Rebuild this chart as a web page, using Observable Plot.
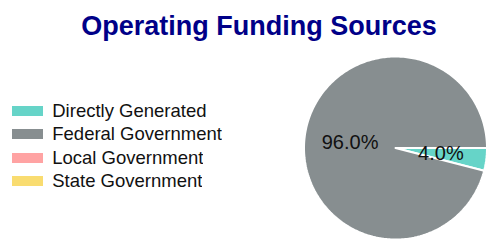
<!DOCTYPE html>
<html>
<head>
<meta charset="utf-8">
<script src="https://cdn.jsdelivr.net/npm/d3@7"></script>
<script src="https://cdn.jsdelivr.net/npm/@observablehq/plot@0.6"></script>
<style>
  html, body { margin: 0; padding: 0; background: #fff; }
  #wrap { position: relative; width: 498px; height: 247px; overflow: hidden; }
  #title { position: absolute; left: 0; top: 13px; width: 518px; text-align: center;
    font: bold 27px "Liberation Sans", Arial, sans-serif; line-height: 27px; color: #000088; z-index: 2; }
  #legend { position: absolute; left: 12px; top: 100px; z-index: 2; }
  #chart { position: absolute; left: 0; top: 0; }
</style>
</head>
<body>
<div id="wrap">
  <div id="title">Operating Funding Sources</div>
  <div id="legend"></div>
  <div id="chart"></div>
</div>
<script>
const categories = ["Directly Generated", "Federal Government", "Local Government", "State Government"];
const shares = [4.0, 96.0, 0, 0];
const colors = ["#66d4c8", "#878e90", "#ffa3a3", "#f9dc70"];

const rows = categories.map((c, i) => ({key: c, value: shares[i]}));
const arcs = d3.pie().sort(null).value(d => d.value).startAngle(0).endAngle(2 * Math.PI)(rows)
  .filter(a => a.data.value > 0);

// polygon points for each slice (angles clockwise from 3 o'clock)
const pts = [];
for (const a of arcs) {
  const key = a.data.key;
  pts.push({key, x: 0, y: 0});
  const n = Math.max(2, Math.ceil((a.endAngle - a.startAngle) / (Math.PI / 180)));
  for (let k = 0; k <= n; k++) {
    const t = a.startAngle + (a.endAngle - a.startAngle) * k / n;
    pts.push({key, x: Math.cos(t), y: Math.sin(t)});
  }
  pts.push({key, x: 0, y: 0});
}
const labels = arcs.map(a => {
  const m = (a.startAngle + a.endAngle) / 2;
  return {x: 0.5 * Math.cos(m), y: 0.5 * Math.sin(m), text: a.data.value.toFixed(1) + "%"};
});

const color = {type: "categorical", domain: categories, range: colors};

const chart = Plot.plot({
  width: 498,
  height: 247,
  marginLeft: 303.5,
  marginRight: 11.5,
  marginTop: 56,
  marginBottom: 8,
  x: {domain: [-1, 1], axis: null},
  y: {domain: [-1, 1], reverse: true, axis: null},
  color,
  style: {background: "white", overflow: "visible"},
  marks: [
    Plot.line(pts, {x: "x", y: "y", z: "key", fill: "key", stroke: "white", strokeWidth: 2, curve: "linear", strokeLinejoin: "miter"}),
    Plot.text(labels, {x: "x", y: "y", text: "text", fontSize: 20, fontFamily: "Liberation Sans Narrow, Arial Narrow, sans-serif", fill: "#111"})
  ]
});
document.getElementById("chart").appendChild(chart);

const legend = Plot.legend({
  color,
  legend: "swatches",
  columns: 1,
  swatchWidth: 31,
  swatchHeight: 10,
  style: {fontSize: "18.5px", fontFamily: "Liberation Sans, Arial, sans-serif", lineHeight: "22.3px", color: "#111", marginBottom: "0"}
});
document.getElementById("legend").appendChild(legend);
</script>
</body>
</html>
